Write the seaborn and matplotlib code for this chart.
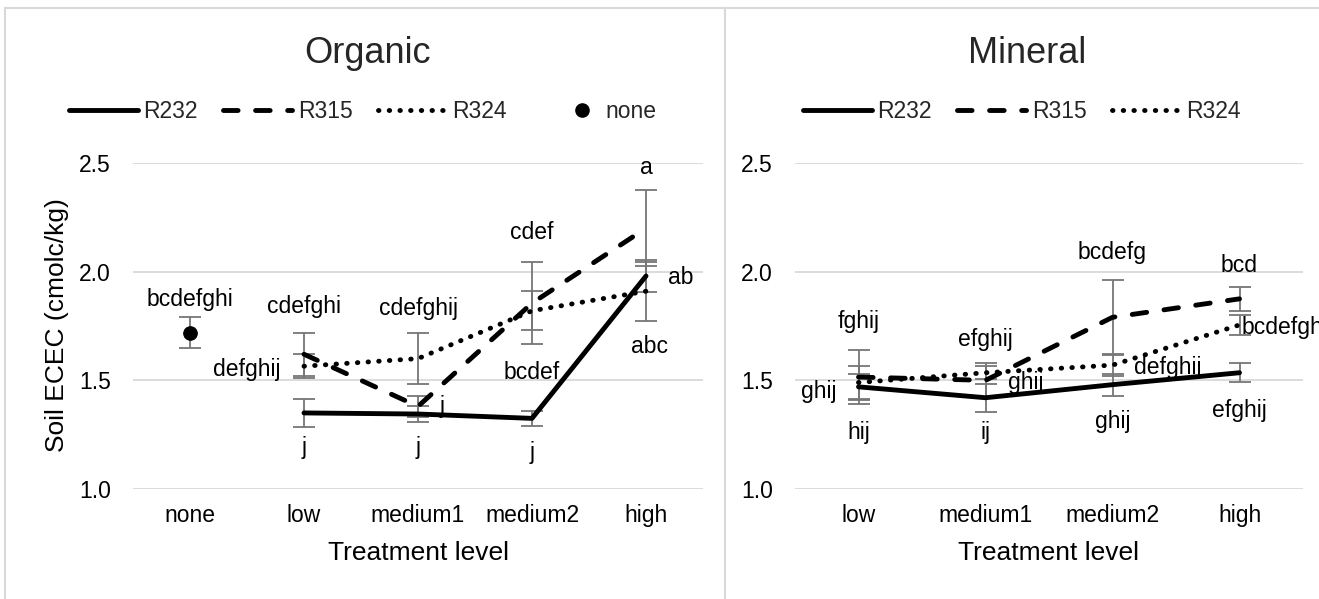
import numpy as np
import pandas as pd
import matplotlib
matplotlib.use("Agg")
import matplotlib.pyplot as plt
import seaborn as sns
from matplotlib.lines import Line2D

# ---------------- data ----------------
left_levels = ["none", "low", "medium1", "medium2", "high"]
right_levels = ["low", "medium1", "medium2", "high"]
series_levels = ["low", "medium1", "medium2", "high"]
series_names = ["R232", "R315", "R324"]

org_R232 = [1.35, 1.345, 1.325, 1.98]
org_R232_err = [0.063, 0.035, 0.033, 0.075]
org_R315 = [1.62, 1.38, 1.855, 2.20]
org_R315_err = [0.10, 0.05, 0.19, 0.176]
org_R324 = [1.565, 1.60, 1.82, 1.91]
org_R324_err = [0.055, 0.118, 0.09, 0.135]
none_value = 1.72
none_err = 0.07

min_R232 = [1.47, 1.42, 1.48, 1.535]
min_R232_err = [0.06, 0.065, 0.05, 0.043]
min_R315 = [1.515, 1.50, 1.79, 1.875]
min_R315_err = [0.125, 0.08, 0.172, 0.055]
min_R324 = [1.49, 1.535, 1.57, 1.755]
min_R324_err = [0.075, 0.03, 0.05, 0.045]

org_R232_letters = ["j", "j", "j", "ab"]
org_R315_letters = ["cdefghi", "j", "cdef", "a"]
org_R324_letters = ["defghij", "cdefghij", "bcdef", "abc"]
none_letters = "bcdefghi"
min_R232_letters = ["hij", "ij", "ghij", "efghij"]
min_R315_letters = ["fghij", "ghij", "bcdefg", "bcd"]
min_R324_letters = ["ghij", "efghij", "defghij", "bcdefgh"]

# ---------------- layout (label placement: x offset, y position, ha) ----------------
org_pos = {
    "R232": [(0, 1.19, "center"), (0, 1.19, "center"), (0, 1.166, "center"), (0.19, 1.971, "left")],
    "R315": [(0, 1.84, "center"), (0.21, 1.38, "center"), (0, 2.18, "center"), (0, 2.477, "center")],
    "R324": [(-0.21, 1.552, "right"), (0, 1.83, "center"), (0, 1.538, "center"), (0.03, 1.655, "center")],
}
none_pos = (0, 1.87)
min_pos = {
    "R232": [(0, 1.26, "center"), (0, 1.26, "center"), (0, 1.31, "center"), (0, 1.36, "center")],
    "R315": [(0, 1.77, "center"), (0.18, 1.49, "left"), (0, 2.09, "center"), (0, 2.03, "center")],
    "R324": [(-0.17, 1.45, "right"), (0, 1.69, "center"), (0.17, 1.56, "left"), (0.02, 1.745, "left")],
}

# ---------------- build tables ----------------
def make_df(levels_all, vals, errs, letters):
    rows = []
    for s in series_names:
        for i, lev in enumerate(series_levels):
            rows.append(dict(series=s, level=lev, x=levels_all.index(lev),
                             value=vals[s][i], err=errs[s][i], letter=letters[s][i]))
    return pd.DataFrame(rows)

df_org = make_df(left_levels,
                 {"R232": org_R232, "R315": org_R315, "R324": org_R324},
                 {"R232": org_R232_err, "R315": org_R315_err, "R324": org_R324_err},
                 {"R232": org_R232_letters, "R315": org_R315_letters, "R324": org_R324_letters})
df_min = make_df(right_levels,
                 {"R232": min_R232, "R315": min_R315, "R324": min_R324},
                 {"R232": min_R232_err, "R315": min_R315_err, "R324": min_R324_err},
                 {"R232": min_R232_letters, "R315": min_R315_letters, "R324": min_R324_letters})
df_none = pd.DataFrame(dict(x=[left_levels.index("none")], value=[none_value], err=[none_err]))

# ---------------- style ----------------
sns.set_theme(style="white")
plt.rcParams['font.family'] = ['Liberation Sans', 'DejaVu Sans']

FS_TICK = 16.5
FS_LAB = 19
FS_TITLE = 26
LW = 3.5
DASHES = {"R232": "", "R315": (3.0, 3.6), "R324": (0.1, 2.1)}
ERR_C = "#767676"
GRID_C = "#d9d9d9"

W, H = 1319, 599
fig = plt.figure(figsize=(W / 100, H / 100), dpi=100)
fig.patch.set_facecolor("white")

axL = fig.add_axes([133 / W, 1 - 489 / H, 570 / W, 326 / H])
axR = fig.add_axes([795 / W, 1 - 489 / H, 508 / W, 326 / H])


def draw_panel(ax, df, levels, pos):
    for s in series_names:
        d = df[df.series == s]
        ax.errorbar(d.x, d.value, yerr=d.err, fmt="none", ecolor=ERR_C,
                    elinewidth=1.3, capsize=8, capthick=1.3, zorder=2)
    sns.lineplot(data=df, x="x", y="value", style="series", dashes=DASHES,
                 color="black", linewidth=LW, ax=ax, legend=False,
                 estimator=None, sort=False, zorder=3,
                 solid_capstyle="round", dash_capstyle="round",
                 solid_joinstyle="round")
    for s in series_names:
        d = df[df.series == s].reset_index(drop=True)
        for i, r in d.iterrows():
            dx, yv, ha = pos[s][i]
            ax.text(r.x + dx, yv, r.letter, ha=ha, va="center",
                    fontsize=FS_TICK, color="black", zorder=5)
    ax.set_xlim(-0.5, len(levels) - 0.5)
    ax.set_ylim(1.0, 2.5)
    ax.set_yticks([1.0, 1.5, 2.0, 2.5])
    ax.set_yticklabels(["1.0", "1.5", "2.0", "2.5"])
    ax.set_xticks(range(len(levels)))
    ax.set_xticklabels(levels)
    ax.tick_params(axis="x", length=0, pad=11, labelsize=FS_TICK, colors="black")
    ax.tick_params(axis="y", length=0, pad=16, labelsize=FS_TICK, colors="black")
    ax.yaxis.grid(True, color=GRID_C, linewidth=1.3)
    ax.xaxis.grid(False)
    ax.set_axisbelow(True)
    for sp in ax.spines.values():
        sp.set_visible(False)
    ax.set_facecolor("none")


draw_panel(axL, df_org, left_levels, org_pos)
draw_panel(axR, df_min, right_levels, min_pos)

# none point
axL.errorbar(df_none.x, df_none.value, yerr=df_none.err, fmt="none", ecolor=ERR_C,
             elinewidth=1.3, capsize=8, capthick=1.3, zorder=2)
sns.scatterplot(data=df_none, x="x", y="value", color="black", s=95, ax=axL,
                zorder=4, legend=False, edgecolor="black")
axL.text(df_none.x[0] + none_pos[0], none_pos[1], none_letters, ha="center",
         va="center", fontsize=FS_TICK, color="black")

for ax in (axL, axR):
    ax.set_xlabel("Treatment level", fontsize=FS_LAB, color="black")
    ax.xaxis.set_label_coords(0.5, -0.16)
axR.set_ylabel("")
axL.set_ylabel("Soil ECEC (cmolc/kg)", fontsize=FS_LAB, color="black")
axL.yaxis.set_label_coords(-0.112, 0.503)

# titles
fig.text(368 / W, 1 - 63 / H, "Organic", ha="center", va="baseline", fontsize=FS_TITLE)
fig.text(1027 / W, 1 - 63 / H, "Mineral", ha="center", va="baseline", fontsize=FS_TITLE)

# legends
line_handles = [Line2D([], [], color="black", lw=LW, solid_capstyle="round"),
                Line2D([], [], color="black", lw=LW, dashes=DASHES["R315"], dash_capstyle="round"),
                Line2D([], [], color="black", lw=LW, dashes=DASHES["R324"], dash_capstyle="round")]
leg_kw = dict(frameon=False, fontsize=FS_TICK, handletextpad=0.25,
              columnspacing=1.1, borderaxespad=0, borderpad=0)

fig.legend(line_handles, series_names, ncol=3, loc="center left",
           bbox_to_anchor=(69 / W, 1 - 112 / H), handlelength=3.0, **leg_kw)
fig.legend([Line2D([], [], color="black", marker="o", ls="none", markersize=9.5)],
           ["none"], loc="center left", bbox_to_anchor=(565 / W, 1 - 112 / H),
           handlelength=1.5, **leg_kw)
fig.legend(line_handles, series_names, ncol=3, loc="center left",
           bbox_to_anchor=(803 / W, 1 - 112 / H), handlelength=3.0, **leg_kw)

# chart borders
BC = "#d9d9d9"
ytop = 1 - 8 / H
for xx in [5 / W, 725 / W]:
    fig.add_artist(Line2D([xx, xx], [0, ytop], transform=fig.transFigure, color=BC, lw=1.5))
fig.add_artist(Line2D([5 / W, 1], [ytop, ytop], transform=fig.transFigure, color=BC, lw=1.5))

fig.savefig("out.png", dpi=100, facecolor="white")
